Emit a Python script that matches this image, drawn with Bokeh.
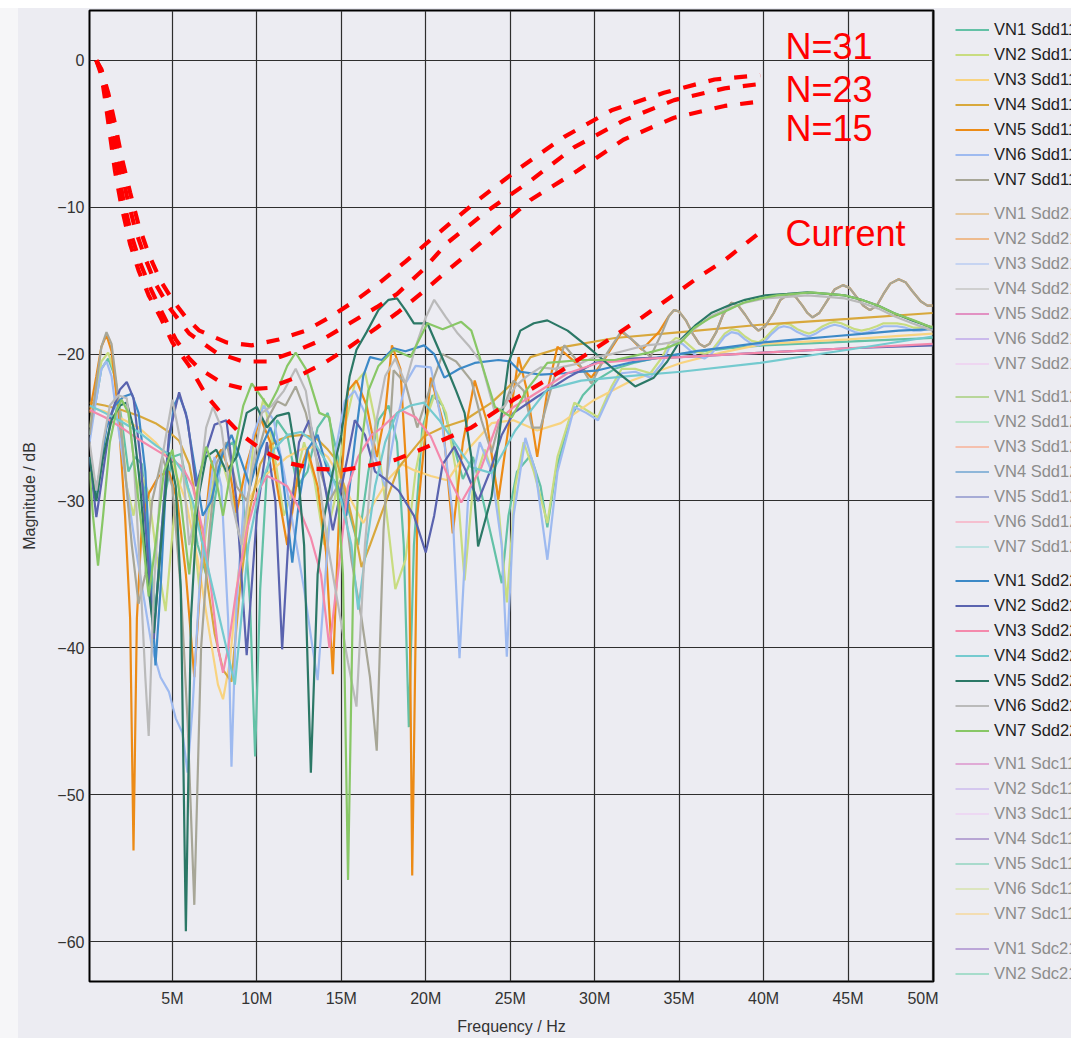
from bokeh.plotting import figure
from bokeh.models import Range1d, FixedTicker, Legend, LegendItem, Label, Spacer
from bokeh.layouts import row, column
from bokeh.embed import file_html
from bokeh.resources import INLINE

FONT = "Liberation Sans"
BG = "#ECECF2"

# ---------------- axis ticks ----------------
TICK_MHZ = [5, 10, 15, 20, 25, 30, 35, 40, 45, 50]
TICK_DB = [0, -10, -20, -30, -40, -50, -60]
VN = ["VN1", "VN2", "VN3", "VN4", "VN5", "VN6", "VN7"]

# ---------------- limit curves (MHz, dB) ----------------
N31 = [(0.5,0.0),(0.8,-0.6),(1.2,-2.2),(1.6,-4.3),(2.0,-6.6),(2.5,-9.0),(3.0,-11.2),(3.6,-13.2),(4.3,-15.0),(5.0,-16.3),(5.8,-17.5),(6.6,-18.4),(8.2,-19.2),(9.7,-19.4),(11.3,-19.0),(12.9,-18.4),(14.3,-17.5),(15.9,-16.3),(17.2,-15.2),(18.8,-13.7),(20.5,-12.0),(23.1,-9.5),(25.6,-7.3),(28.2,-5.2),(31.0,-3.4),(34.1,-2.2),(37.1,-1.3),(39.8,-1.0)]
N23 = [(0.5,0.0),(0.8,-0.7),(1.2,-2.4),(1.5,-4.5),(1.9,-7.0),(2.3,-9.2),(2.8,-11.5),(3.4,-13.5),(4.0,-15.2),(4.8,-16.8),(6.0,-18.6),(7.6,-19.9),(9.2,-20.5),(10.6,-20.5),(12.1,-19.9),(13.9,-19.0),(15.5,-17.9),(17.1,-16.8),(18.3,-15.9),(19.8,-14.3),(21.3,-12.4),(23.7,-10.2),(26.2,-8.2),(28.8,-5.9),(31.7,-4.1),(34.7,-2.7),(37.7,-1.9),(39.8,-1.6)]
N15 = [(0.5,0.0),(0.8,-0.8),(1.1,-2.5),(1.4,-4.8),(1.7,-7.0),(2.1,-9.5),(2.6,-12.0),(3.1,-13.8),(3.7,-15.5),(4.4,-17.2),(5.2,-19.0),(6.0,-20.3),(6.6,-21.0),(8.0,-22.0),(9.4,-22.4),(10.7,-22.3),(12.3,-21.6),(14.0,-20.6),(15.5,-19.5),(17.1,-18.2),(18.3,-17.2),(19.8,-15.8),(21.3,-14.3),(23.9,-11.8),(26.2,-9.5),(29.0,-7.5),(31.7,-5.4),(34.7,-3.9),(37.7,-3.1),(39.8,-2.8)]
CURRENT = [(0.5,0.0),(0.8,-1.0),(1.0,-2.5),(1.3,-5.0),(1.6,-7.5),(2.0,-10.0),(2.5,-12.5),(3.0,-14.3),(3.6,-16.0),(4.3,-17.5),(5.0,-19.2),(6.0,-20.8),(7.0,-22.8),(8.1,-24.3),(9.1,-25.5),(10.4,-26.6),(11.8,-27.4),(13.4,-27.8),(15.1,-27.9),(16.6,-27.6),(18.2,-27.2),(19.9,-26.4),(22.7,-25.0),(25.2,-23.1),(27.8,-21.3),(30.2,-19.5),(32.8,-17.5),(34.9,-15.8),(36.1,-14.8),(37.7,-13.6),(39.8,-11.7)]

# ---------------- Sdd11 (MHz, dB) ----------------
S11_VN1 = [(0.1,-25.5),(0.5,-23.0),(0.8,-21.0),(1.2,-20.3),(1.6,-21.5),(2.0,-24.5),(2.4,-28.0),(2.8,-27.0),(3.2,-27.5),(3.6,-33.0),(4.0,-37.5),(4.5,-30.0),(5.0,-27.0),(5.5,-26.8),(6.0,-29.5),(6.5,-33.0),(7.0,-35.0),(7.5,-30.0),(8.0,-26.5),(8.6,-26.0),(9.2,-30.0),(9.6,-37.0),(9.9,-47.4),(10.2,-36.0),(10.6,-28.0),(11.2,-24.5),(11.8,-25.5),(12.4,-29.0),(13.0,-28.0),(13.6,-25.0),(14.2,-24.0),(14.8,-27.0),(15.4,-30.5),(16.0,-33.0),(16.6,-28.0),(17.2,-24.5),(17.8,-23.5),(18.3,-26.0),(18.7,-33.0),(19.0,-45.4),(19.3,-33.0),(19.8,-25.0),(20.4,-22.8),(21.0,-23.5),(21.6,-26.0),(22.2,-28.5),(22.8,-27.0),(23.4,-30.0),(24.0,-33.0),(24.5,-35.6),(24.9,-31.0),(25.4,-28.0),(26.2,-26.9),(26.8,-29.0),(27.2,-31.8),(27.7,-28.0),(28.5,-24.5),(29.3,-22.8),(30.2,-21.7),(31.2,-21.0),(32.3,-20.6),(33.5,-20.3),(35.0,-20.0),(36.5,-19.8),(38.0,-19.6),(40.0,-19.4),(42.0,-19.3),(44.0,-19.2),(46.0,-19.1),(48.0,-19.0),(50.0,-18.9)]
S11_VN2 = [(0.1,-25.0),(0.5,-22.5),(0.8,-20.5),(1.2,-19.9),(1.5,-21.0),(1.9,-24.0),(2.3,-29.0),(2.7,-31.0),(3.1,-28.0),(3.6,-29.5),(4.1,-34.0),(4.6,-37.5),(5.1,-31.0),(5.6,-28.0),(6.1,-30.0),(6.6,-36.0),(7.0,-32.0),(7.5,-28.0),(8.0,-27.5),(8.6,-30.0),(9.2,-34.0),(9.8,-26.0),(10.4,-23.0),(11.0,-26.5),(11.6,-31.0),(12.2,-29.0),(12.8,-26.0),(13.4,-28.5),(14.0,-33.0),(14.6,-30.0),(15.2,-25.0),(15.8,-22.0),(16.4,-21.2),(17.0,-24.5),(17.6,-30.0),(18.2,-36.0),(18.8,-34.0),(19.4,-28.0),(20.0,-24.5),(20.6,-22.5),(21.2,-24.0),(21.8,-28.0),(22.3,-35.4),(22.8,-29.0),(23.5,-26.5),(24.2,-29.0),(24.8,-36.9),(25.3,-29.0),(25.8,-26.0),(26.4,-28.0),(27.2,-31.5),(27.8,-27.0),(28.8,-23.3),(29.5,-23.8),(30.2,-24.3),(31.0,-22.2),(31.6,-21.0),(32.4,-21.0),(33.3,-21.3),(34.0,-20.2),(34.4,-19.3),(34.8,-18.9),(35.2,-19.0),(35.6,-19.4),(36.0,-19.8),(36.5,-20.0),(36.9,-19.8),(37.3,-19.2),(37.7,-18.6),(38.1,-18.3),(38.5,-18.4),(38.9,-18.8),(39.3,-19.1),(39.7,-19.2),(40.1,-18.9),(40.5,-18.4),(40.9,-18.0),(41.2,-17.9),(41.6,-18.0),(42.0,-18.3),(42.4,-18.5),(42.7,-18.6),(43.1,-18.4),(43.5,-18.1),(43.9,-17.9),(44.2,-17.8),(44.6,-17.9),(45.0,-18.1),(45.4,-18.3),(45.8,-18.4),(46.2,-18.3),(46.7,-18.1),(47.1,-17.9),(47.5,-17.9),(47.9,-17.9),(48.4,-18.0),(48.9,-18.2),(49.3,-18.2),(50.0,-18.1)]
S11_VN3 = [(0.1,-23.6),(1.0,-23.9),(2.0,-24.4),(3.0,-25.0),(4.0,-26.0),(5.0,-27.5),(5.8,-30.0),(6.5,-34.0),(7.2,-39.0),(7.7,-42.5),(8.0,-43.5),(8.4,-41.0),(8.9,-35.0),(9.5,-30.0),(10.2,-28.5),(11.0,-27.8),(11.8,-27.0),(12.6,-26.5),(13.4,-26.3),(14.2,-27.0),(15.0,-28.5),(15.6,-30.0),(16.3,-31.5),(17.0,-30.0),(17.8,-28.5),(18.6,-27.5),(19.3,-27.9),(20.3,-28.3),(21.3,-28.6),(22.5,-26.5),(23.9,-24.7),(25.2,-24.5),(26.6,-25.2),(28.0,-24.7),(30.0,-23.1),(32.2,-21.8),(35.1,-20.6),(37.5,-19.9),(40.0,-19.3),(45.0,-19.0),(50.0,-18.6)]
S11_VN4 = [(0.1,-23.3),(1.0,-23.5),(2.0,-23.8),(3.0,-24.2),(4.0,-24.7),(4.8,-25.3),(5.4,-25.9),(6.0,-27.5),(6.5,-30.5),(7.0,-35.0),(7.5,-39.0),(8.0,-41.5),(8.5,-42.3),(9.0,-36.0),(9.6,-30.5),(10.2,-27.5),(10.8,-26.2),(11.4,-25.8),(11.9,-25.6),(12.7,-25.5),(13.5,-25.7),(14.2,-26.5),(14.7,-27.2),(15.3,-29.5),(15.8,-32.0),(16.2,-34.5),(16.7,-33.0),(17.4,-30.8),(18.4,-27.7),(19.9,-25.6),(21.0,-25.0),(22.3,-24.5),(23.9,-23.3),(25.3,-21.8),(26.2,-20.2),(28.2,-19.5),(31.2,-18.9),(35.1,-18.5),(39.8,-18.0),(45.0,-17.6),(50.0,-17.2)]
S11_VN5 = [(0.1,-24.0),(0.5,-21.5),(0.8,-19.5),(1.1,-18.7),(1.4,-19.8),(1.8,-24.0),(2.2,-31.0),(2.5,-38.0),(2.7,-53.8),(2.9,-38.0),(3.2,-31.5),(3.6,-29.5),(4.2,-28.3),(4.8,-28.0),(5.3,-30.0),(5.8,-35.0),(6.3,-42.0),(6.8,-33.0),(7.3,-27.5),(7.9,-26.5),(8.4,-28.0),(8.8,-30.8),(9.4,-27.5),(10.2,-24.3),(10.8,-26.0),(11.2,-29.0),(11.8,-33.0),(12.4,-28.5),(13.0,-26.5),(13.6,-29.0),(14.1,-33.5),(14.5,-41.8),(14.9,-30.0),(15.4,-22.5),(15.9,-21.8),(16.5,-23.5),(17.1,-27.0),(17.6,-24.0),(18.0,-19.4),(18.5,-21.0),(19.0,-30.8),(19.2,-55.5),(19.5,-31.0),(20.3,-21.6),(21.0,-24.5),(21.6,-32.2),(22.2,-26.0),(22.9,-21.8),(23.6,-24.5),(24.3,-29.9),(24.9,-25.0),(25.5,-20.2),(26.0,-22.5),(26.6,-27.0),(27.2,-22.5),(27.8,-19.5),(28.5,-20.2),(29.2,-20.9),(29.8,-21.6),(30.5,-20.5),(31.6,-18.5),(32.2,-19.0),(32.8,-19.7),(33.8,-18.5),(34.4,-17.4),(34.7,-17.0),(35.0,-17.1),(35.4,-17.7),(35.8,-18.6),(36.2,-19.3),(36.5,-19.5),(36.8,-19.3),(37.2,-18.5),(37.6,-17.3),(38.1,-16.5),(38.5,-16.7),(38.9,-17.3),(39.3,-18.0),(39.7,-18.4),(40.1,-18.1),(40.6,-17.2),(41.0,-16.3),(41.5,-15.9),(41.9,-16.1),(42.3,-16.7),(42.6,-17.2),(42.9,-17.5),(43.3,-17.2),(43.8,-16.3),(44.2,-15.6),(44.7,-15.3),(45.1,-15.5),(45.5,-16.1),(45.9,-16.7),(46.3,-17.0),(46.7,-16.7),(47.1,-15.9),(47.5,-15.2),(48.0,-14.9),(48.4,-15.1),(48.8,-15.7),(49.3,-16.4),(49.7,-16.7),(50.0,-16.7)]
S11_VN6 = [(0.1,-26.0),(0.5,-23.0),(0.8,-21.0),(1.1,-20.5),(1.4,-21.5),(1.8,-25.0),(2.3,-29.0),(2.8,-33.0),(3.3,-36.5),(3.8,-40.0),(4.3,-42.0),(4.8,-43.0),(5.2,-44.8),(5.6,-45.8),(5.9,-48.5),(6.2,-44.0),(6.6,-36.0),(7.0,-31.0),(7.5,-27.0),(7.9,-29.0),(8.3,-38.0),(8.5,-48.1),(8.8,-37.0),(9.3,-29.0),(9.8,-25.5),(10.4,-23.5),(11.0,-24.5),(11.6,-28.0),(12.2,-32.0),(12.8,-36.0),(13.3,-40.0),(13.6,-42.2),(14.0,-36.0),(14.6,-27.0),(15.2,-23.2),(15.8,-22.5),(16.4,-24.0),(17.0,-27.0),(17.6,-29.0),(18.2,-25.0),(18.8,-22.0),(19.4,-20.8),(20.3,-20.9),(21.0,-25.0),(21.6,-31.0),(22.0,-40.7),(22.5,-30.0),(23.2,-26.0),(23.9,-28.0),(24.5,-33.0),(24.8,-40.6),(25.2,-31.0),(25.9,-25.7),(26.5,-28.0),(27.2,-34.0),(27.8,-28.0),(28.8,-23.6),(29.5,-24.0),(30.2,-24.5),(31.0,-22.5),(31.6,-21.3),(32.4,-21.2),(33.3,-21.6),(34.0,-20.6),(34.4,-19.6),(34.8,-19.2),(35.2,-19.3),(35.6,-19.7),(36.0,-20.1),(36.5,-20.3),(36.9,-20.0),(37.3,-19.4),(37.7,-18.8),(38.1,-18.5),(38.5,-18.6),(38.9,-19.0),(39.3,-19.3),(39.7,-19.4),(40.1,-19.1),(40.5,-18.6),(40.9,-18.2),(41.2,-18.1),(41.6,-18.2),(42.0,-18.5),(42.4,-18.7),(42.7,-18.8),(43.1,-18.6),(43.5,-18.3),(43.9,-18.1),(44.2,-18.0),(44.6,-18.1),(45.0,-18.3),(45.4,-18.5),(45.8,-18.6),(46.2,-18.5),(46.7,-18.3),(47.1,-18.1),(47.5,-18.1),(47.9,-18.1),(48.4,-18.2),(48.9,-18.4),(49.3,-18.4),(50.0,-18.2)]
S11_VN7 = [(0.1,-25.5),(0.5,-22.0),(0.8,-19.5),(1.1,-18.5),(1.4,-19.3),(1.8,-23.0),(2.2,-28.0),(2.6,-33.0),(3.0,-37.0),(3.4,-35.0),(3.8,-30.0),(4.4,-27.0),(5.0,-29.0),(5.5,-36.0),(5.9,-45.0),(6.3,-57.5),(6.7,-40.0),(7.2,-32.0),(7.6,-27.5),(8.2,-26.0),(8.8,-29.0),(9.4,-30.0),(10.0,-27.0),(10.6,-24.5),(11.2,-23.2),(11.7,-23.5),(12.3,-22.2),(12.9,-24.0),(13.5,-27.0),(14.3,-30.0),(15.0,-28.5),(15.6,-34.0),(16.2,-38.0),(16.7,-42.0),(17.1,-47.0),(17.5,-32.0),(18.1,-21.1),(18.8,-22.0),(19.5,-25.0),(20.2,-22.5),(21.0,-20.0),(21.8,-20.5),(22.7,-21.8),(23.3,-24.5),(23.9,-26.7),(24.5,-24.0),(25.2,-21.8),(25.8,-22.5),(26.3,-25.0),(26.8,-25.0),(27.5,-22.0),(28.2,-19.4),(29.0,-20.5),(29.8,-22.0),(30.7,-20.0),(31.6,-18.4),(32.5,-19.3),(33.3,-20.2),(34.0,-18.5),(34.4,-17.4),(34.7,-17.0),(35.0,-17.1),(35.4,-17.7),(35.8,-18.6),(36.2,-19.3),(36.5,-19.5),(36.8,-19.3),(37.2,-18.5),(37.6,-17.3),(38.1,-16.5),(38.5,-16.7),(38.9,-17.3),(39.3,-18.0),(39.7,-18.4),(40.1,-18.1),(40.6,-17.2),(41.0,-16.3),(41.5,-15.9),(41.9,-16.1),(42.3,-16.7),(42.6,-17.2),(42.9,-17.5),(43.3,-17.2),(43.8,-16.3),(44.2,-15.6),(44.7,-15.3),(45.1,-15.5),(45.5,-16.1),(45.9,-16.7),(46.3,-17.0),(46.7,-16.7),(47.1,-15.9),(47.5,-15.2),(48.0,-14.9),(48.4,-15.1),(48.8,-15.7),(49.3,-16.4),(49.7,-16.7),(50.0,-16.7)]

# ---------------- Sdd22 (MHz, dB) ----------------
S22_VN1 = [(0.1,-27.0),(0.4,-29.7),(0.7,-28.0),(1.1,-25.0),(1.6,-23.5),(2.1,-22.9),(2.6,-22.7),(3.0,-24.0),(3.4,-28.0),(3.7,-35.0),(4.0,-41.2),(4.3,-36.0),(4.7,-27.0),(5.1,-23.5),(5.4,-22.8),(5.8,-24.0),(6.3,-27.5),(6.8,-31.0),(7.3,-30.0),(7.9,-27.0),(8.5,-25.5),(9.0,-27.0),(9.6,-29.0),(10.2,-26.5),(10.8,-25.0),(11.4,-27.0),(11.8,-31.0),(12.1,-34.2),(12.5,-30.0),(13.0,-26.5),(13.6,-25.5),(14.2,-28.0),(14.8,-29.0),(15.3,-31.0),(15.8,-26.0),(16.3,-21.5),(16.7,-20.2),(17.4,-20.4),(18.1,-19.6),(18.8,-19.8),(19.9,-19.4),(20.5,-20.0),(21.1,-21.6),(22.0,-21.0),(22.9,-20.6),(24.3,-20.4),(25.0,-20.5),(25.6,-21.2),(26.8,-21.4),(28.2,-21.3),(30.2,-21.1),(32.0,-20.6),(34.0,-20.2),(36.0,-19.8),(38.0,-19.5),(40.0,-19.2),(42.0,-19.0),(44.0,-18.8),(46.0,-18.6),(48.0,-18.4),(50.0,-18.3)]
S22_VN2 = [(0.1,-27.0),(0.5,-31.1),(0.9,-28.0),(1.4,-24.0),(1.9,-22.4),(2.3,-21.9),(2.7,-23.0),(3.1,-27.0),(3.5,-33.0),(3.9,-39.4),(4.3,-33.0),(4.8,-25.5),(5.4,-22.6),(5.9,-24.5),(6.4,-29.0),(6.9,-27.0),(7.5,-24.8),(8.2,-24.5),(8.8,-30.0),(9.4,-40.5),(10.0,-31.0),(10.6,-26.0),(11.1,-30.0),(11.5,-40.1),(11.9,-32.0),(12.5,-26.0),(13.1,-24.5),(13.8,-27.5),(14.5,-32.0),(15.2,-28.0),(15.8,-24.5),(16.4,-25.5),(17.0,-28.0),(17.6,-28.5),(18.4,-29.3),(19.3,-31.0),(20.0,-33.5),(20.5,-31.0),(21.0,-27.5),(21.7,-26.3),(22.4,-28.0),(23.1,-30.0),(23.8,-28.0),(24.5,-25.5),(25.2,-24.0),(26.6,-22.9),(28.4,-21.6),(30.0,-20.6),(32.0,-20.3),(35.0,-20.2),(40.0,-19.9),(45.0,-19.6),(50.0,-19.4)]
S22_VN3 = [(0.1,-23.8),(1.0,-24.3),(2.0,-25.0),(3.0,-25.8),(4.0,-26.5),(5.0,-27.2),(5.6,-27.7),(6.2,-29.0),(6.8,-32.0),(7.3,-36.0),(7.7,-40.0),(8.0,-41.7),(8.3,-40.0),(8.8,-36.0),(9.4,-32.0),(10.0,-29.5),(10.6,-28.3),(11.2,-28.6),(11.8,-29.0),(12.5,-30.5),(13.2,-32.5),(13.8,-35.0),(14.3,-40.0),(14.8,-35.0),(15.4,-29.0),(16.0,-27.0),(16.8,-25.5),(17.4,-25.0),(18.5,-23.8),(19.4,-24.3),(20.3,-25.6),(21.2,-28.0),(22.1,-30.1),(23.3,-27.7),(24.3,-24.5),(25.2,-23.6),(26.2,-22.9),(28.4,-21.3),(30.2,-20.6),(33.2,-20.3),(35.1,-20.2),(40.0,-19.9),(45.0,-19.6),(50.0,-19.3)]
S22_VN4 = [(0.1,-23.5),(1.0,-24.0),(2.0,-24.6),(3.0,-25.3),(4.0,-26.2),(5.0,-27.0),(5.6,-28.0),(6.2,-30.0),(6.8,-33.0),(7.4,-36.0),(8.0,-39.0),(8.4,-41.0),(8.7,-42.5),(9.0,-39.0),(9.5,-33.0),(10.2,-29.0),(11.0,-26.5),(11.8,-25.5),(12.6,-25.3),(13.4,-26.0),(14.2,-27.5),(15.0,-30.0),(15.6,-33.0),(16.0,-37.4),(16.5,-33.0),(17.0,-29.0),(17.6,-26.0),(18.3,-24.0),(19.1,-23.5),(19.9,-23.3),(20.8,-24.5),(21.7,-26.0),(22.7,-27.7),(23.9,-28.1),(25.3,-25.2),(27.2,-22.4),(29.2,-21.8),(32.0,-21.5),(35.1,-21.2),(39.8,-20.6),(45.0,-19.7),(50.0,-18.8)]
S22_VN5 = [(0.1,-27.0),(0.5,-30.0),(0.9,-27.0),(1.4,-24.5),(1.9,-23.5),(2.3,-23.3),(2.7,-25.0),(3.1,-29.0),(3.5,-35.0),(3.9,-39.0),(4.4,-32.0),(4.8,-26.7),(5.2,-29.0),(5.5,-36.0),(5.8,-59.3),(6.1,-38.0),(6.5,-30.0),(7.0,-27.0),(7.6,-26.5),(8.2,-28.0),(8.8,-27.0),(9.4,-24.0),(10.0,-23.6),(10.6,-25.0),(11.2,-24.2),(11.9,-24.0),(12.4,-27.5),(12.8,-33.0),(13.2,-48.5),(13.6,-35.0),(14.0,-31.0),(14.5,-28.0),(15.0,-25.5),(15.5,-21.5),(15.9,-19.7),(16.5,-18.5),(17.2,-17.0),(17.8,-16.3),(18.3,-16.2),(18.8,-17.0),(19.3,-17.9),(20.1,-17.9),(20.7,-19.5),(21.3,-21.1),(21.8,-22.5),(22.3,-24.0),(22.7,-27.0),(23.1,-33.1),(23.9,-29.7),(24.4,-25.0),(24.9,-20.6),(25.6,-18.4),(26.4,-17.9),(27.2,-17.7),(28.4,-18.4),(29.6,-19.5),(30.4,-20.3),(31.2,-21.1),(32.4,-22.2),(33.5,-21.6),(34.3,-20.5),(35.1,-19.0),(36.0,-18.0),(36.9,-17.2),(37.9,-16.7),(38.9,-16.3),(40.1,-16.0),(41.4,-15.9),(42.6,-15.8),(43.8,-15.9),(44.8,-16.0),(45.8,-16.3),(46.8,-16.7),(47.7,-17.2),(48.8,-17.7),(50.0,-18.2)]
S22_VN6 = [(0.1,-26.0),(0.5,-29.3),(0.9,-26.0),(1.3,-23.5),(1.8,-22.8),(2.3,-23.0),(2.7,-27.0),(3.1,-35.0),(3.4,-42.0),(3.6,-46.0),(3.9,-36.0),(4.4,-27.0),(5.0,-23.1),(5.5,-26.0),(6.0,-33.0),(6.5,-30.0),(7.0,-25.0),(7.4,-23.6),(7.9,-25.0),(8.5,-30.0),(9.1,-33.0),(9.7,-28.0),(10.3,-24.0),(10.9,-23.5),(11.6,-22.5),(12.3,-21.0),(12.9,-22.5),(13.5,-27.0),(14.2,-33.0),(14.8,-37.0),(15.4,-41.0),(15.9,-44.0),(16.4,-33.0),(17.0,-25.0),(17.6,-21.5),(18.2,-20.3),(18.8,-22.0),(19.4,-19.5),(20.0,-17.5),(20.5,-16.3),(21.2,-17.5),(21.9,-18.6),(22.6,-19.5),(23.3,-20.6),(24.1,-24.0),(24.7,-23.5),(25.3,-22.2),(26.0,-21.5),(26.8,-20.9),(27.6,-21.0),(28.4,-20.8),(29.2,-20.6),(30.0,-20.2),(31.0,-20.0),(32.0,-19.7),(33.0,-19.4),(34.0,-19.3),(35.1,-19.1),(36.0,-18.2),(36.9,-17.4),(37.9,-16.9),(38.9,-16.5),(40.1,-16.2),(41.4,-16.1),(42.6,-16.0),(43.8,-16.1),(44.8,-16.2),(45.8,-16.5),(46.8,-16.9),(47.7,-17.4),(48.8,-17.9),(50.0,-18.4)]
S22_VN7 = [(0.1,-28.0),(0.3,-31.0),(0.6,-34.4),(0.9,-31.0),(1.3,-26.0),(1.7,-23.8),(2.0,-23.1),(2.4,-24.0),(2.8,-28.0),(3.2,-32.0),(3.6,-36.5),(4.0,-33.0),(4.5,-28.0),(5.0,-26.5),(5.5,-30.0),(6.0,-35.0),(6.5,-29.0),(7.0,-26.3),(7.5,-28.0),(8.0,-31.0),(8.6,-27.0),(9.2,-23.5),(9.7,-22.0),(10.2,-22.8),(10.7,-23.6),(11.2,-22.5),(11.8,-20.8),(12.3,-19.9),(12.9,-21.0),(13.7,-24.0),(14.3,-24.3),(14.7,-28.0),(15.1,-35.0),(15.4,-55.8),(15.7,-36.0),(16.1,-27.0),(16.6,-22.5),(17.2,-20.8),(18.1,-19.7),(19.1,-20.2),(20.1,-17.9),(21.0,-18.3),(22.1,-17.8),(22.7,-18.4),(23.3,-20.6),(24.1,-23.6),(25.1,-24.3),(26.0,-22.4),(27.2,-20.6),(29.2,-20.4),(31.2,-20.4),(33.2,-19.9),(34.2,-19.6),(35.1,-19.2),(35.9,-18.2),(36.9,-17.5),(37.9,-17.0),(38.8,-16.5),(39.8,-16.2),(40.8,-16.0),(41.8,-15.9),(42.8,-15.8),(43.8,-15.9),(44.8,-16.0),(45.8,-16.3),(46.8,-16.7),(47.7,-17.2),(48.9,-17.7),(50.0,-18.2)]

SDD11 = [S11_VN1, S11_VN2, S11_VN3, S11_VN4, S11_VN5, S11_VN6, S11_VN7]
SDD22 = [S22_VN1, S22_VN2, S22_VN3, S22_VN4, S22_VN5, S22_VN6, S22_VN7]

SDD11_COLORS = ["#63C1A6", "#C8DC80", "#F8D380", "#D8A83C", "#EC8B16", "#9EBAF0", "#A7A697"]
SDD22_COLORS = ["#3C89C7", "#5A63AF", "#F489AC", "#74CACF", "#2B7866", "#BABABA", "#88C766"]
SDD21_COLORS = ["#E6C9A0", "#EEBB8E", "#C6D4F2", "#CFCFCF", "#E291C3", "#CAB9EC", "#EED6F1"]
SDD12_COLORS = ["#B8D69A", "#B7E4C8", "#F5C0AE", "#8EB6D9", "#A6ABD6", "#F5BFCF", "#BCE2E2"]
SDC11_COLORS = ["#E0AAD6", "#D4C7EF", "#EDD8F3", "#B7A5D4", "#A8DACC", "#DCE5BE", "#F3DDB2"]
SDC21_COLORS = ["#BBA6D8", "#A6DCCB"]

# ---------------- main figure ----------------
FRAME_TOP = 2
FRAME_BOTTOM_BORDER = 57
FRAME_H = 971
p = figure(width=920, height=1030, output_backend="svg", toolbar_location=None,
           x_range=Range1d(0.095e6, 50.06e6), y_range=Range1d(-62.72, 3.4),
           min_border_left=70, min_border_right=5, min_border_top=FRAME_TOP,
           min_border_bottom=FRAME_BOTTOM_BORDER,
           background_fill_color=BG, border_fill_color=BG,
           outline_line_color="black", outline_line_width=2)

p.xaxis.ticker = FixedTicker(ticks=[int(m * 1e6) for m in TICK_MHZ])
p.xaxis.major_label_overrides = {int(m * 1e6): f"{m}M" for m in TICK_MHZ}
p.yaxis.ticker = FixedTicker(ticks=TICK_DB)
p.yaxis.major_label_overrides = {d: (str(d).replace("-", "\u2212")) for d in TICK_DB}
p.xaxis.axis_label = "Frequency / Hz"
p.yaxis.axis_label = "Magnitude / dB"
for ax in (p.xaxis[0], p.yaxis[0]):
    ax.axis_line_color = None
    ax.major_tick_line_color = None
    ax.minor_tick_line_color = None
    ax.major_tick_out = 0
    ax.major_tick_in = 0
    ax.minor_tick_out = 0
    ax.minor_tick_in = 0
    ax.major_label_text_font = FONT
    ax.major_label_text_font_size = "16px"
    ax.major_label_text_color = "#333333"
    ax.axis_label_text_font = FONT
    ax.axis_label_text_font_size = "16px"
    ax.axis_label_text_font_style = "normal"
    ax.axis_label_text_color = "#333333"
p.xaxis.major_label_standoff = 8
p.xaxis.axis_label_standoff = 8
p.yaxis.major_label_standoff = 5
p.yaxis.axis_label_standoff = 16
p.grid.grid_line_color = "#2E2E2E"
p.grid.grid_line_width = 1.2


def draw(series, color):
    return p.line(x=[f * 1e6 for f, _ in series], y=[d for _, d in series],
                  line_color=color, line_width=2.2)


for s, c in zip(SDD11, SDD11_COLORS):
    draw(s, c)
for s, c in zip(SDD22, SDD22_COLORS):
    draw(s, c)

for lim in (N31, N23, N15, CURRENT):
    p.line(x=[f * 1e6 for f, _ in lim], y=[d for _, d in lim], line_color="#FF0000",
           line_width=4.2, line_dash="13 13", line_cap="butt")

for txt, yc in (("N=31", 0.95), ("N=23", -1.98), ("N=15", -4.63), ("Current", -11.78)):
    p.add_layout(Label(x=41.3e6, y=yc, text=txt, text_font=FONT, text_font_size="36px",
                       text_color="#FF0000", text_baseline="middle"))

# ---------------- legend panel (its frame is aligned with the main frame) ----------------
q = figure(width=133, height=1030, output_backend="svg", toolbar_location=None,
           x_range=Range1d(0, 1), y_range=Range1d(0, 1),
           x_axis_location=None, y_axis_location=None,
           min_border_left=0, min_border_right=0, min_border_top=FRAME_TOP,
           min_border_bottom=FRAME_BOTTOM_BORDER,
           background_fill_color=BG, border_fill_color=BG,
           outline_line_color=None)
q.grid.visible = False

NAN = float("nan")


def add_legend(colors, name, first_center_page, text_color):
    rends = [q.line(x=[NAN], y=[NAN], line_color=c, line_width=2.2) for c in colors]
    n = len(rends)
    h = n * 21 + (n - 1) * 4
    top = first_center_page + 1 - (8 + FRAME_TOP) - 10.5 - 0.25 * (n - 1)
    vy = FRAME_H - top - h
    leg = Legend(items=[LegendItem(label=f"{v} {name}", renderers=[r]) for v, r in zip(VN, rends)],
                 location=(17, vy), orientation="vertical",
                 glyph_width=34, glyph_height=21, label_height=21, spacing=4,
                 label_standoff=5, padding=0, margin=0,
                 border_line_alpha=0, background_fill_alpha=0,
                 label_text_font=FONT, label_text_font_size="16.5px",
                 label_text_color=text_color)
    q.add_layout(leg, "center")


ON = "#1E1E1E"
OFF = "#8C8C8C"
add_legend(SDD11_COLORS, "Sdd11", 30, ON)
add_legend(SDD21_COLORS, "Sdd21", 214, OFF)
add_legend(SDD12_COLORS, "Sdd12", 397, OFF)
add_legend(SDD22_COLORS, "Sdd22", 581, ON)
add_legend(SDC11_COLORS, "Sdc11", 764, OFF)
add_legend(SDC21_COLORS, "Sdc21", 948, OFF)

left_strip = Spacer(width=18, height=1030, styles={"background-color": "#F6F6F8"})
inner = row(left_strip, p, q, styles={"background-color": BG})
layout = column(Spacer(height=8), inner)
open("out.html", "w").write(file_html(layout, INLINE))
